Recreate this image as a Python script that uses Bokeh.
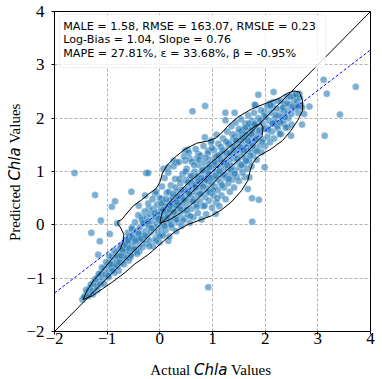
import numpy as np
from bokeh.plotting import figure
from bokeh.layouts import column, row
from bokeh.models import Label, BoxAnnotation, FixedTicker, Range1d
from bokeh.embed import file_html
from bokeh.resources import INLINE

# ---------------- data ----------------
points = [
    # sparse outliers
    (-1.62, 0.97), (-1.23, 0.56), (-0.26, 0.97), (-0.22, 0.97), (0.62, 2.13), (0.86, 2.23),
    (-0.54, 0.62), (-0.91, 0.34), (-0.85, 0.44), (-1.12, 0.08), (-1.30, -0.15), (-1.14, -0.31),
    (-0.95, -0.17), (-0.81, 0.03), (-1.17, -0.56), (0.92, -1.17), (1.67, 0.67), (1.75, 0.50),
    (1.88, 0.47), (1.755, 0.06), (1.06, 0.21), (1.99, 1.08), (1.61, 0.89), (3.11, 2.72),
    (3.72, 2.59), (3.17, 2.46), (3.42, 2.07), (3.13, 1.67), (2.84, 2.22), (2.70, 1.88),
    (2.50, 1.88), (2.49, 1.67), (2.16, 2.49), (1.87, 2.44), (1.82, 2.24), (1.245, 2.10),
    (1.42, 2.10), (1.245, 1.96), (1.075, 1.69), (2.65, 2.46), (2.55, 2.33), (2.74, 2.08),
    (2.30, 2.17), (2.36, 2.27), (2.08, 2.27), (2.585, 2.39), (2.68, 2.24), (1.80, 2.25),
    (2.43, 2.14), (2.30, 2.02), (2.36, 1.89), (2.24, 1.80), (2.14, 2.20), (1.99, 2.11),
    (2.18, 1.99), (2.43, 1.83), (2.30, 1.71), (1.70, 0.89), (2.145, 1.89), (0.855, 1.64),
    (0.98, 1.58), (0.53, 1.41), (0.73, 1.33), (0.48, 1.20), (0.32, 1.17), (0.16, 1.08),
    (0.57, 1.24), (0.92, 1.39), (0.07, 1.05), (0.26, 1.20), (0.48, 1.39), (0.70, 1.24),
    (-0.28, 0.55), (-0.09, 0.58), (0.04, 0.49), (-0.40, 0.36), (-0.21, 0.30), (-0.34, 0.14),
    (-0.53, -0.05), (-0.21, 0.02), (-0.59, -0.23), (-0.40, -0.23), (-0.655, -0.45), (-0.43, -0.45),
    (-0.78, -0.61), (-0.59, -0.67), (-0.91, -0.80), (-1.09, -0.92), (-0.97, -0.98), (-1.22, -1.11),
    (-1.31, -1.23), (-0.78, -0.86), (-0.56, -0.55), (0.04, -0.17), (0.16, -0.30),
    # dense band
    (-1.47, -1.40), (-1.42, -1.33), (-1.38, -1.28), (-1.33, -1.18), (-1.29, -1.24), (-1.26, -1.08),
    (-1.21, -1.15), (-1.18, -0.98), (-1.15, -1.06), (-1.12, -0.90), (-1.08, -0.99), (-1.05, -0.82),
    (-1.03, -0.93),
    (-0.99, -0.76), (-0.97, -0.88), (-0.95, -0.68), (-0.92, -0.81), (-0.90, -0.60), (-0.88, -0.73),
    (-0.86, -0.90), (-0.84, -0.55), (-0.82, -0.67), (-0.80, -0.78), (-0.78, -0.48), (-0.76, -0.62),
    (-0.74, -0.71), (-0.72, -0.38), (-0.71, -0.53),
    (-0.69, -0.66), (-0.67, -0.44), (-0.66, -0.29), (-0.64, -0.57), (-0.62, -0.35), (-0.61, -0.15),
    (-0.59, -0.49), (-0.57, -0.62), (-0.56, -0.27), (-0.54, -0.40), (-0.53, -0.08), (-0.51, -0.53),
    (-0.50, -0.19), (-0.48, -0.33), (-0.47, 0.05), (-0.45, -0.45), (-0.44, -0.12), (-0.42, -0.26),
    (-0.41, 0.18),
    (-0.39, -0.50), (-0.38, -0.05), (-0.37, -0.36), (-0.35, -0.18), (-0.34, 0.10), (-0.33, -0.42),
    (-0.31, -0.28), (-0.30, 0.02), (-0.29, 0.25), (-0.27, -0.12), (-0.26, -0.35), (-0.25, 0.14),
    (-0.24, -0.22), (-0.22, 0.40), (-0.21, -0.02), (-0.19, -0.30), (-0.18, 0.20), (-0.17, -0.14),
    (-0.15, 0.07), (-0.14, 0.48), (-0.13, -0.40), (-0.12, 0.30), (-0.11, -0.06),
    (-0.09, 0.15), (-0.08, -0.25), (-0.07, 0.62), (-0.06, 0.02), (-0.05, 0.38), (-0.04, -0.14),
    (-0.03, 0.24), (-0.02, 0.09), (-0.01, -0.33), (0.00, 0.50), (0.01, 0.16), (0.02, -0.05),
    (0.03, 0.31), (0.04, 0.72), (0.05, 0.05), (0.06, -0.20), (0.07, 0.42), (0.08, 0.20),
    (0.09, 0.88), (0.10, 0.11), (0.11, -0.10), (0.12, 0.35), (0.13, 0.60), (0.14, 0.01),
    (0.15, 0.27), (0.16, 0.98), (0.17, 0.17), (0.18, -0.22), (0.19, 0.45),
    (0.20, 0.08), (0.21, 0.74), (0.22, 0.30), (0.23, -0.05), (0.24, 0.52), (0.25, 0.21),
    (0.26, 1.10), (0.27, 0.38), (0.28, 0.12), (0.29, 0.86), (0.30, 0.44), (0.31, -0.12),
    (0.32, 0.28), (0.33, 0.62), (0.34, 0.05), (0.35, 0.50), (0.36, 1.18), (0.37, 0.35),
    (0.38, 0.18), (0.39, 0.78), (0.40, 0.57), (0.41, -0.02), (0.42, 0.42), (0.43, 0.95),
    (0.44, 0.27), (0.45, 0.64), (0.46, 1.28), (0.47, 0.12), (0.48, 0.50), (0.49, 0.84),
    (0.50, 0.36), (0.51, 1.05), (0.52, 0.60), (0.53, 0.20), (0.54, 0.72), (0.55, 1.35),
    (0.56, 0.45), (0.57, 0.04), (0.58, 0.90), (0.59, 0.55), (0.60, 0.30), (0.61, 1.18),
    (0.62, 0.68), (0.63, 0.82), (0.64, 0.14), (0.65, 0.48), (0.66, 1.00), (0.67, 0.62),
    (0.68, 1.42), (0.69, 0.38), (0.70, 0.76), (0.71, 0.92), (0.72, 0.22), (0.73, 0.56),
    (0.74, 1.12), (0.75, 0.70), (0.76, 0.44), (0.77, 1.30), (0.78, 0.85), (0.79, 0.10),
    (0.80, 0.62), (0.81, 0.98), (0.82, 0.35), (0.83, 1.48), (0.84, 0.76), (0.85, 1.16),
    (0.86, 0.52), (0.87, 0.88), (0.88, 0.20), (0.89, 1.05), (0.90, 0.68), (0.91, 1.34),
    (0.92, 0.82), (0.93, 0.45), (0.94, 0.95), (0.95, 1.22), (0.96, 0.60), (0.97, 1.55),
    (0.98, 0.78), (0.99, 0.32), (1.00, 1.08), (1.01, 0.90), (1.02, 0.55), (1.03, 1.40),
    (1.04, 0.72), (1.05, 1.00), (1.06, 1.26), (1.07, 0.42), (1.08, 0.86), (1.09, 1.15),
    (1.10, 0.65), (1.11, 1.52), (1.12, 0.96), (1.13, 0.35), (1.14, 1.08), (1.15, 0.80),
    (1.16, 1.32), (1.17, 0.55), (1.18, 1.20), (1.19, 0.92), (1.20, 1.62), (1.21, 1.02),
    (1.22, 0.70), (1.23, 1.40), (1.24, 1.12), (1.25, 0.48), (1.26, 0.88), (1.27, 1.28),
    (1.28, 1.75), (1.29, 1.05), (1.30, 0.78), (1.31, 1.50), (1.32, 1.18), (1.33, 0.62),
    (1.34, 0.96), (1.35, 1.36), (1.36, 1.85), (1.37, 1.10), (1.38, 0.85), (1.39, 1.60),
    (1.40, 1.25), (1.41, 0.70), (1.42, 1.45), (1.43, 1.02), (1.44, 1.92), (1.45, 1.32),
    (1.46, 0.90), (1.47, 1.55), (1.48, 1.18), (1.49, 1.72), (1.50, 0.82), (1.51, 1.40),
    (1.52, 1.08), (1.53, 1.62), (1.54, 1.98), (1.55, 1.28), (1.56, 1.48), (1.57, 0.98),
    (1.58, 1.78), (1.59, 1.36), (1.60, 1.15), (1.61, 1.58), (1.62, 1.90), (1.63, 1.25),
    (1.64, 1.45), (1.65, 1.05), (1.66, 1.68), (1.67, 1.38), (1.68, 2.05), (1.69, 1.52),
    (1.70, 1.20), (1.71, 1.80), (1.72, 1.42), (1.73, 1.62), (1.74, 1.10), (1.75, 1.95),
    (1.76, 1.50), (1.77, 1.30), (1.78, 1.72), (1.79, 2.10), (1.80, 1.58), (1.81, 1.40),
    (1.83, 1.85), (1.84, 1.22), (1.86, 1.65), (1.87, 2.00), (1.89, 1.48), (1.90, 1.78),
    (1.92, 2.15), (1.93, 1.36), (1.95, 1.90), (1.96, 1.60), (1.98, 2.05),
    (2.00, 1.48), (2.02, 1.82), (2.04, 2.22), (2.05, 1.65), (2.07, 1.95), (2.09, 1.55),
    (2.11, 2.10), (2.13, 1.75), (2.15, 2.30), (2.17, 1.62), (2.19, 1.92), (2.21, 2.18),
    (2.23, 1.85), (2.26, 2.05), (2.28, 1.70),
    (2.31, 2.32), (2.33, 1.95), (2.36, 2.12), (2.39, 1.82), (2.41, 2.40), (2.44, 2.00),
    (2.47, 2.25), (2.50, 2.08), (2.53, 2.42), (2.56, 2.18), (2.60, 2.30), (2.63, 2.10),
    (2.66, 2.38), (2.70, 2.20),
    # dense core
    (0.05, 0.10), (0.11, 0.25), (0.19, 0.28), (0.23, 0.40), (0.31, 0.37), (0.35, 0.52),
    (0.43, 0.50), (0.47, 0.66), (0.55, 0.62), (0.59, 0.79), (0.67, 0.74), (0.71, 0.90),
    (0.79, 0.88), (0.83, 1.04), (0.91, 0.99), (0.95, 1.14), (1.03, 1.12), (1.07, 1.28),
    (1.15, 1.22), (1.19, 1.38), (1.27, 1.35), (1.31, 1.52), (1.39, 1.47), (1.43, 1.64),
    (1.51, 1.58), (1.55, 1.75), (1.63, 1.70), (1.67, 1.84), (1.75, 1.78), (1.81, 1.90),
    # second pass, lower-left band
    (-1.44, -1.36), (-1.40, -1.22), (-1.36, -1.34), (-1.31, -1.12), (-1.27, -1.30), (-1.23, -1.02),
    (-1.19, -1.22), (-1.16, -0.92), (-1.13, -1.12), (-1.10, -0.80), (-1.06, -1.10), (-1.02, -0.70),
    (-0.98, -0.96), (-0.96, -0.58), (-0.93, -0.74), (-0.89, -0.86), (-0.87, -0.48), (-0.83, -0.76),
    (-0.81, -0.58), (-0.77, -0.70), (-0.75, -0.42), (-0.73, -0.58), (-0.70, -0.47), (-0.68, -0.74),
    (-0.65, -0.38), (-0.63, -0.62), (-0.60, -0.30), (-0.58, -0.44), (-0.55, -0.58), (-0.52, -0.24),
    (-0.49, -0.46), (-0.46, -0.30), (-0.43, -0.54), (-0.40, -0.16),
    # second pass, core
    (-0.36, -0.26), (-0.32, 0.04), (-0.28, -0.20), (-0.23, 0.06), (-0.20, -0.40), (-0.16, -0.06),
    (-0.10, 0.22), (-0.07, -0.30), (-0.03, 0.12), (0.00, -0.22), (0.03, 0.40), (0.06, 0.28),
    (0.09, -0.02), (0.12, 0.48), (0.14, 0.14), (0.17, 0.62), (0.20, 0.36), (0.22, 0.00),
    (0.25, 0.58), (0.27, 0.24), (0.30, 0.70), (0.32, 0.10), (0.34, 0.42), (0.37, 0.86),
    (0.39, 0.30), (0.41, 0.66), (0.44, 0.08), (0.46, 0.46), (0.49, 1.00), (0.51, 0.28),
    (0.53, 0.80), (0.56, 0.58), (0.58, 0.16), (0.60, 0.92), (0.63, 0.44), (0.65, 1.12),
    (0.68, 0.70), (0.70, 0.34), (0.73, 0.82), (0.75, 1.22), (0.77, 0.58), (0.80, 1.02),
    (0.82, 0.72), (0.85, 0.36), (0.87, 1.26), (0.89, 0.84), (0.92, 0.62), (0.94, 1.08),
    (0.97, 0.88), (0.99, 1.44), (1.01, 0.66), (1.04, 1.18), (1.06, 0.92), (1.09, 0.50),
    (1.11, 1.30), (1.13, 1.00), (1.16, 1.46), (1.18, 0.74), (1.21, 1.18), (1.23, 0.94),
    (1.26, 1.56), (1.28, 1.12), (1.31, 0.86), (1.33, 1.34), (1.35, 1.04), (1.38, 1.70),
    (1.40, 1.40), (1.42, 0.96), (1.45, 1.58), (1.47, 1.24), (1.50, 1.80), (1.52, 1.46),
    (1.55, 1.12), (1.57, 1.64), (1.60, 1.40), (1.62, 1.82), (1.64, 1.20), (1.67, 1.58),
    (1.69, 1.90), (1.72, 1.30), (1.74, 1.70), (1.77, 1.48), (1.79, 1.88), (1.82, 1.60),
    (1.85, 1.38), (1.88, 1.76), (1.91, 1.96), (1.94, 1.56), (1.97, 1.80),
    # second pass, upper right
    (2.01, 2.02), (2.06, 1.78), (2.10, 2.24), (2.14, 1.90), (2.20, 2.06), (2.25, 2.32),
    (2.29, 1.92), (2.34, 2.20), (2.38, 2.02), (2.42, 2.28), (2.48, 2.40), (2.52, 2.22),
    (2.58, 2.45), (2.62, 2.22),
]
actual = [pt[0] for pt in points]
predicted = [pt[1] for pt in points]

# KDE contour outlines
outer_x = [-1.46, -1.38, -1.25, -1.09, -0.91, -0.75, -0.69, -0.685, -0.74, -0.80, -0.79, -0.72,
           -0.64, -0.50, -0.34, -0.21, -0.07, 0.0, 0.05, 0.14, 0.29, 0.48, 0.70, 0.90, 1.05,
           1.17, 1.30, 1.48, 1.74, 1.99, 2.24, 2.43, 2.55, 2.65, 2.71, 2.71, 2.62, 2.49, 2.33,
           2.11, 1.86, 1.76, 1.71, 1.67, 1.55, 1.36, 1.17, 0.98, 0.79, 0.54, 0.30, 0.10, -0.21,
           -0.47, -0.655, -0.91, -1.09, -1.28, -1.46]
outer_y = [-1.40, -1.23, -1.03, -0.86, -0.64, -0.45, -0.30, -0.18, -0.06, 0.02, 0.07, 0.10,
           0.20, 0.36, 0.47, 0.58, 0.68, 0.80, 0.97, 1.12, 1.27, 1.42, 1.53, 1.57, 1.62,
           1.72, 1.86, 2.02, 2.17, 2.27, 2.36, 2.47, 2.51, 2.49, 2.33, 2.14, 1.96, 1.77, 1.58,
           1.42, 1.28, 1.15, 1.00, 0.83, 0.64, 0.43, 0.28, 0.17, 0.10, 0.01, -0.12, -0.28, -0.55,
           -0.73, -0.89, -1.08, -1.20, -1.33, -1.40]
inner_x = [0.0, 0.04, 0.16, 0.35, 0.55, 0.75, 0.98, 1.17, 1.36, 1.55, 1.70, 1.83, 1.92,
           1.96, 1.94, 1.82, 1.61, 1.36, 1.11, 0.92, 0.67, 0.42, 0.18, 0.0]
inner_y = [0.03, 0.22, 0.40, 0.60, 0.80, 0.96, 1.17, 1.33, 1.49, 1.64, 1.77, 1.86, 1.90,
           1.82, 1.66, 1.53, 1.32, 1.10, 0.88, 0.68, 0.44, 0.24, 0.09, 0.03]

fit_slope = 0.76
fit_intercept = 0.24
axis_limits = [-2, 4]
ticks = [-2, -1, 0, 1, 2, 3, 4]
tick_labels = ["\u22122", "\u22121", "0", "1", "2", "3", "4"]
metrics_lines = [
    "MALE = 1.58, RMSE = 163.07, RMSLE = 0.23",
    "Log-Bias = 1.04, Slope = 0.76",
    "MAPE = 27.81%, \u03b5 = 33.68%, \u03b2 = -0.95%",
]
x_label_parts = ["Actual", "Chla", "Values"]
y_label_parts = ["Predicted", "Chla", "Values"]

# ---------------- main figure ----------------
YLAB_W = 23
MAIN_H = 354
fig = figure(width=382 - YLAB_W, height=MAIN_H, x_range=Range1d(*axis_limits),
             y_range=Range1d(*axis_limits), output_backend="svg", toolbar_location=None,
             title=None,
             min_border_left=29, min_border_right=12, min_border_top=11, min_border_bottom=23)
fig.background_fill_color = "white"
fig.border_fill_color = "white"
fig.outline_line_color = "black"
fig.outline_line_width = 1
fig.outline_line_alpha = 1

for g in (fig.xgrid, fig.ygrid):
    g.ticker = FixedTicker(ticks=ticks)
    g.grid_line_color = "#b0b0b0"
    g.grid_line_dash = "3 2"
    g.grid_line_width = 1

for ax in (fig.xaxis, fig.yaxis):
    ax.ticker = FixedTicker(ticks=ticks)
    ax.major_label_overrides = {t: lab for t, lab in zip(ticks, tick_labels)}
    ax.major_label_text_font = "Liberation Serif"
    ax.major_label_text_font_size = "17px"
    ax.major_label_text_color = "black"
    ax.axis_line_color = "black"
    ax.major_tick_line_color = "black"
    ax.major_tick_in = 0
    ax.major_tick_out = 3
    ax.minor_tick_line_color = None
fig.xaxis.major_label_standoff = -2
fig.yaxis.major_label_standoff = 7

fig.scatter(actual, predicted, size=7, fill_color="#1f77b4", fill_alpha=0.58,
            line_color="white", line_width=0.5, line_alpha=0.6)

fig.line(outer_x, outer_y, line_color="black", line_width=1)
fig.line(inner_x, inner_y, line_color="black", line_width=1)
fig.line(axis_limits, axis_limits, line_color="black", line_width=1)
fit_y = [fit_slope * v + fit_intercept for v in axis_limits]
fig.line(axis_limits, fit_y, line_color="blue", line_width=1, line_dash="3 2")

box = BoxAnnotation(left=-1.906, right=3.15, bottom=2.95, top=3.944,
                    fill_color="white", fill_alpha=0.8, line_color="#cccccc",
                    line_width=1, border_radius=4)
fig.add_layout(box)
for i, txt in enumerate(metrics_lines):
    fig.add_layout(Label(x=-1.836, y=3.719 - i * 0.2533, text=txt, text_font="DejaVu Sans",
                         text_font_size="11.2px", text_baseline="middle", text_color="black"))

label_fonts = [("Liberation Serif", "normal"), ("DejaVu Sans", "italic"), ("Liberation Serif", "normal")]


def strip(width, height, y_range):
    s = figure(width=width, height=height, x_range=Range1d(0, width), y_range=y_range,
               output_backend="svg", toolbar_location=None, title=None,
               x_axis_type=None, y_axis_type=None,
               min_border=0, min_border_left=0, min_border_right=0,
               min_border_top=0, min_border_bottom=0)
    s.outline_line_color = None
    s.background_fill_color = "white"
    s.border_fill_color = "white"
    return s


# ---------------- y-axis title strip (its frame lines up with the main frame) ----------------
ylab = strip(YLAB_W, MAIN_H, Range1d(*axis_limits))
for start, txt, (font, style) in zip([-0.305, 0.829, 1.523], y_label_parts, label_fonts):
    ylab.add_layout(Label(x=14.3, y=start, text=txt, text_font=font, text_font_style=style,
                          text_font_size="15px", text_align="left", text_baseline="middle",
                          angle=np.pi / 2, text_color="black"))

# ---------------- x-axis title strip ----------------
XLAB_H = 379 - MAIN_H
xlab = strip(382, XLAB_H, Range1d(0, XLAB_H))
for start, txt, (font, style) in zip([149.75, 193.5, 230.55], x_label_parts, label_fonts):
    xlab.add_layout(Label(x=start, y=10, text=txt, text_font=font, text_font_style=style,
                          text_font_size="15px", text_align="left", text_baseline="middle",
                          text_color="black"))

p = column(row(ylab, fig, spacing=0), xlab, spacing=0)
open("out.html", "w").write(file_html(p, INLINE))
